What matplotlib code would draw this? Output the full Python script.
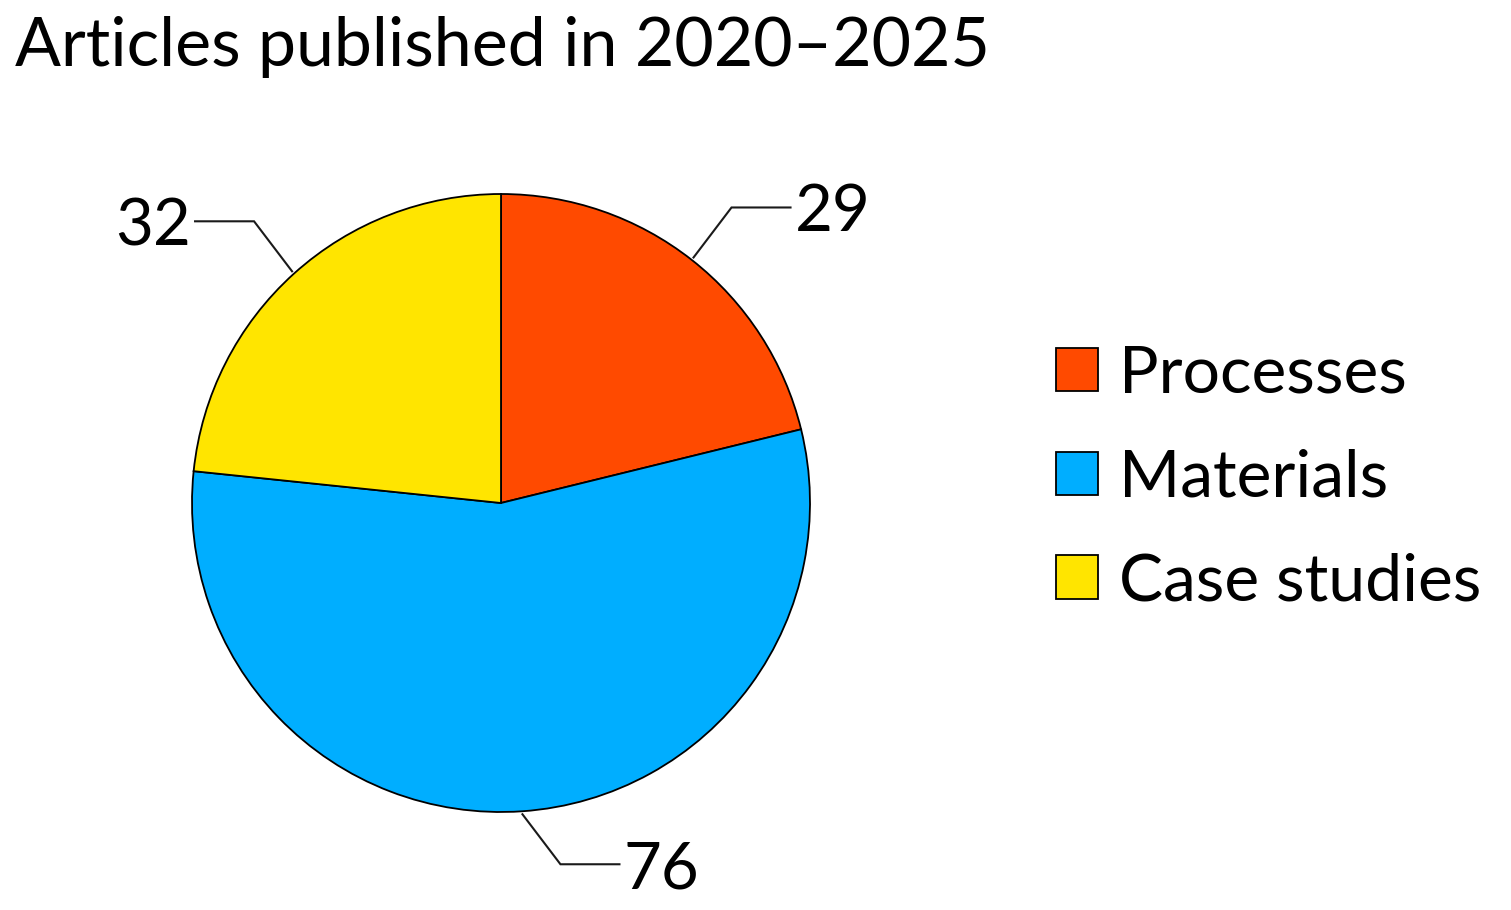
import numpy as np
import matplotlib
matplotlib.use("Agg")
import matplotlib.pyplot as plt

plt.rcParams['font.family'] = ['Lato', 'DejaVu Sans']

title = "Articles published in 2020\u20132025"
categories = ["Processes", "Materials", "Case studies"]
counts = [29, 76, 32]
colors = ["#FF4A00", "#00AEFF", "#FFE500"]

fig = plt.figure(figsize=(15.11, 9.1), dpi=100)
ax = fig.add_axes([0, 0, 1, 1])
ax.set_xlim(0, 1511)
ax.set_ylim(0, 910)

cx, cy, r = 501, 407, 309
wedges, _ = ax.pie(counts, colors=colors, startangle=90, counterclock=False,
                   center=(cx, cy), radius=r, frame=True,
                   wedgeprops=dict(edgecolor="black", linewidth=1.3))
ax.set_xlim(0, 1511)
ax.set_ylim(0, 910)
ax.set_aspect("equal")
ax.axis("off")

# leader lines: diagonal out of the wedge, then horizontal to the number
for w, n in zip(wedges, counts):
    ang = np.deg2rad((w.theta1 + w.theta2) / 2)
    x0, y0 = cx + (r + 3) * np.cos(ang), cy + (r + 3) * np.sin(ang)
    sx = 1 if np.cos(ang) >= 0 else -1
    sy = 1 if np.sin(ang) >= 0 else -1
    x1, y1 = x0 + sx * 38, y0 + sy * 50
    x2 = x1 + sx * 59
    ax.plot([x0, x1, x2], [y0, y1, y1], color="#1a1a1a", lw=1.5,
            solid_joinstyle="miter")
    ax.text(x2 + sx * 4, y1, str(n), fontsize=47,
            ha="left" if sx > 0 else "right", va="center_baseline")

fig.text(15 / 1511, 1 - 41 / 910, title, fontsize=49, va="center_baseline")

ax.legend(wedges, categories, loc="center left",
          bbox_to_anchor=(1056 / 1511, 1 - 478 / 910), frameon=False,
          fontsize=47.5, handlelength=0.64, handleheight=0.64,
          handletextpad=0.32, labelspacing=0.68, borderpad=0,
          borderaxespad=0)

fig.savefig("out.png", dpi=100)
